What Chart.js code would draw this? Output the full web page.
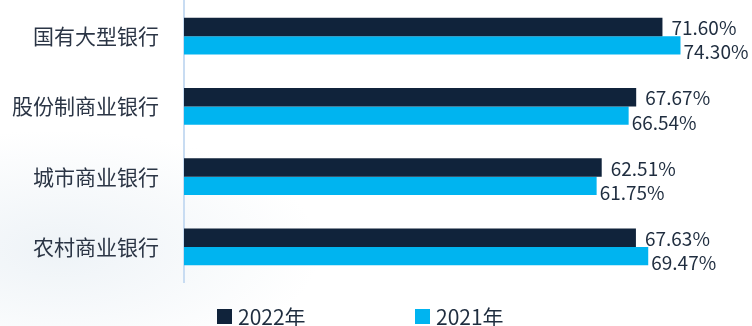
<!DOCTYPE html>
<html><head><meta charset="utf-8">
<script src="https://cdn.jsdelivr.net/npm/chart.js@4.4.0/dist/chart.umd.min.js"></script>
<style>
html,body{margin:0;padding:0;background:#fff;}
#wrap{position:relative;width:752px;height:326px;background:
  radial-gradient(ellipse 260px 120px at 60px 250px, #eef3f7 0%, rgba(255,255,255,0) 100%);}
canvas{display:block;}
</style></head><body>
<div id="wrap"><canvas id="c" width="752" height="326"></canvas></div>
<script>
const categories = ['国有大型银行', '股份制商业银行', '城市商业银行', '农村商业银行'];
const seriesNames = ['2022年', '2021年'];
const values2022 = [71.60, 67.67, 62.51, 67.63];
const values2021 = [74.30, 66.54, 61.75, 69.47];
const seriesColors = ['#10233b', '#00b4f0'];

Chart.defaults.font.family = '"Noto Sans CJK SC", "Noto Sans", sans-serif';

const valueLabels = {
  id: 'valueLabels',
  afterDatasetsDraw(chart) {
    const ctx = chart.ctx;
    chart.data.datasets.forEach((ds, i) => {
      const meta = chart.getDatasetMeta(i);
      meta.data.forEach((bar, j) => {
        const txt = ds.data[j].toFixed(2) + '%';
        ctx.save();
        ctx.font = '19px "Noto Sans CJK SC"';
        ctx.fillStyle = '#1f2d3f';
        ctx.textAlign = 'left';
        ctx.textBaseline = 'middle';
        const dx = i === 0 ? 9 : 3;
        const dy = i === 0 ? 1 : 7;
        ctx.fillText(txt, bar.x + dx, bar.y + dy);
        ctx.restore();
      });
    });
  }
};

const bottomLegend = {
  id: 'bottomLegend',
  afterDraw(chart) {
    const ctx = chart.ctx;
    const x0 = chart.chartArea.left + 33;
    const gap = 198;
    const y = 316;
    chart.data.datasets.forEach((ds, i) => {
      const x = x0 + i * gap;
      ctx.save();
      ctx.fillStyle = ds.backgroundColor;
      ctx.fillRect(x, y - 7, 15, 15);
      ctx.font = '21px "Noto Sans CJK SC"';
      ctx.fillStyle = '#1f2d3f';
      ctx.textAlign = 'left';
      ctx.textBaseline = 'middle';
      ctx.fillText(ds.label, x + 21, y + 1);
      ctx.restore();
    });
  }
};

new Chart(document.getElementById('c'), {
  type: 'bar',
  data: {
    labels: categories,
    datasets: [
      { label: seriesNames[0], data: values2022, backgroundColor: seriesColors[0] },
      { label: seriesNames[1], data: values2021, backgroundColor: seriesColors[1] }
    ]
  },
  options: {
    indexAxis: 'y',
    responsive: false,
    devicePixelRatio: 1,
    animation: false,
    layout: { padding: { top: 1, right: 0, bottom: 44, left: 0 } },
    datasets: { bar: { categoryPercentage: 0.52, barPercentage: 1 } },
    plugins: { legend: { display: false }, tooltip: { enabled: false } },
    scales: {
      x: { display: false, min: 0, max: 85 },
      y: {
        grid: { display: false, drawTicks: false },
        border: { display: true, color: '#c8dcf2', width: 2 },
        ticks: { font: { size: 21 }, color: '#2b3545', padding: 25 },
        afterFit(scale) {
          scale.width = 184;
          scale.paddingTop = 0;
          scale.paddingBottom = 0;
        }
      }
    }
  },
  plugins: [valueLabels, bottomLegend]
});
</script>
</body></html>
